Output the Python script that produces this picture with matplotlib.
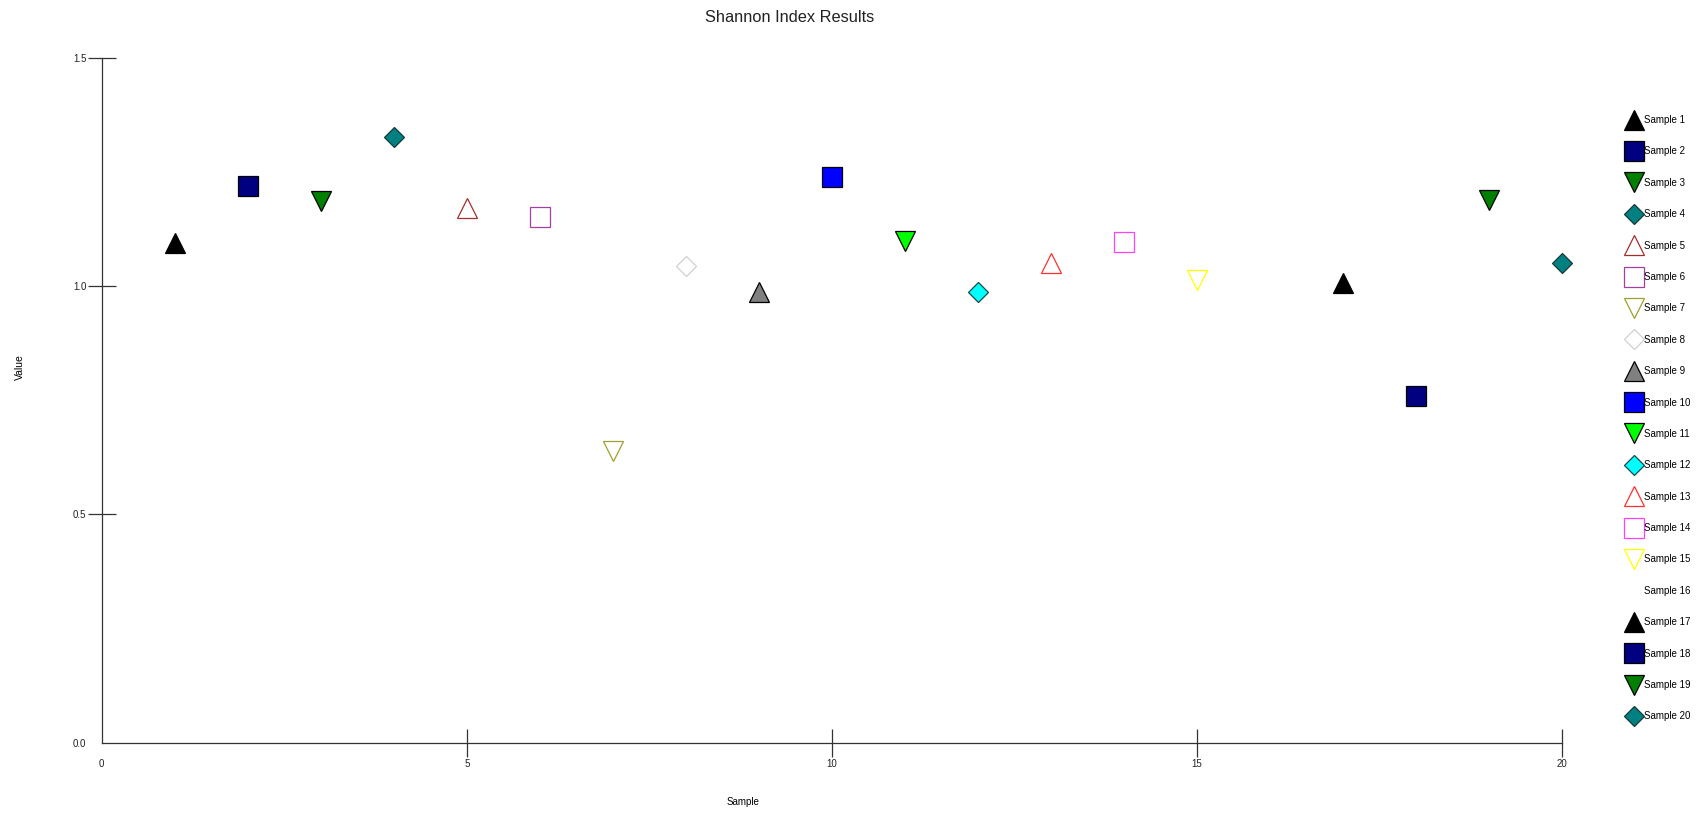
import numpy as np
import matplotlib.pyplot as plt

plt.rcParams['font.family'] = ['Liberation Sans', 'DejaVu Sans']

# datos
muestras = [f"Sample {i}" for i in range(1, 21)]
x_vals = list(range(1, 21))
shannon = [1.095, 1.219, 1.186, 1.326, 1.171, 1.152, 0.640, 1.045, 0.988, 1.240,
           1.100, 0.988, 1.052, 1.098, 1.014, np.nan, 1.007, 0.760, 1.190, 1.052]
marcadores = ['^', 's', 'v', 'D'] * 5
relleno = ['black', '#000080', '#008000', '#008080', 'white', 'white', 'white', 'white',
           '#808080', '#0000ff', '#00ff00', '#00ffff', 'white', 'white', 'white', 'white',
           'black', '#000080', '#008000', '#008080']
borde = ['black', 'black', 'black', '#1a3a3a', '#a03030', '#a040a0', '#a0a030', '#d0d0d0',
         'black', 'black', 'black', '#1a4a4a', '#ff3030', '#ff40ff', '#ffff00', 'white',
         'black', 'black', 'black', '#1a3a3a']

fig = plt.figure(figsize=(17.07, 8.15), dpi=100)
ax = fig.add_axes([0.0596, 0.0887, 0.8553, 0.8401])

for i in range(20):
    ms = 10.5 if marcadores[i] == 'D' else 15
    ax.plot([x_vals[i]], [shannon[i]], linestyle='none', marker=marcadores[i],
            markersize=ms, markerfacecolor=relleno[i], markeredgecolor=borde[i],
            markeredgewidth=0.9, clip_on=False, label=muestras[i])

ax.set_xlim(0, 20)
ax.set_ylim(0, 1.5)
ax.set_xticks([0, 5, 10, 15, 20])
ax.set_yticks([0, 0.5, 1.0, 1.5])
ax.set_yticklabels(["0.0", "0.5", "1.0", "1.5"])
for s in ['top', 'right']:
    ax.spines[s].set_visible(False)
for s in ['left', 'bottom']:
    ax.spines[s].set_color('#333333')
    ax.spines[s].set_linewidth(0.9)
ax.tick_params(direction='inout', length=20, width=0.9, color='#333333',
               labelsize=7, labelcolor='#222222')
ax.tick_params(axis='y', pad=1)
ax.tick_params(axis='x', pad=2)
ax.xaxis.get_major_ticks()[0].tick1line.set_visible(False)
ax.yaxis.get_major_ticks()[0].tick1line.set_visible(False)

ax.set_xlabel("Sample", fontsize=7)
ax.xaxis.set_label_coords(0.439, -0.0796)
ax.set_ylabel("Value", fontsize=7.5)
ax.yaxis.set_label_coords(-0.0527, 0.549)

fig.text(790 / 1707, 1 - 17 / 815, "Shannon Index Results", fontsize=11.8,
         ha='center', va='center', color='#222222')

fig.legend(loc='upper left', bbox_to_anchor=(1629 / 1707, 1 - 115 / 815),
           frameon=False, fontsize=7, handlelength=1, handletextpad=0.5,
           labelspacing=2.2, borderpad=0, borderaxespad=0)

fig.savefig("out.png", dpi=100)
